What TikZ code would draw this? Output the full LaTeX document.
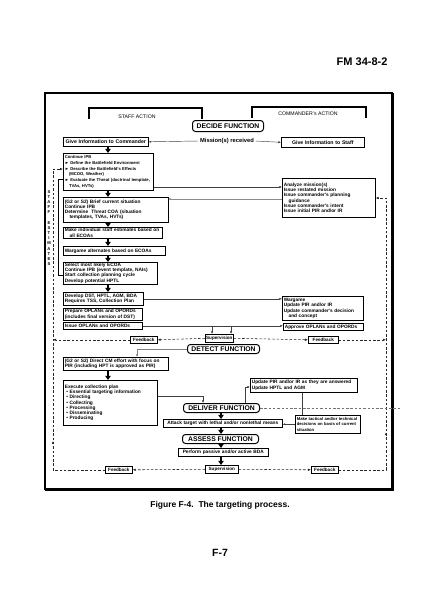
\documentclass[tikz,border=0pt]{standalone}
\usepackage{fontspec}
\setmainfont{Liberation Sans}
\usetikzlibrary{arrows.meta,decorations.markings}

\tikzset{
  stepbox/.style={draw, line width=0.6pt, anchor=north west, align=left, inner xsep=1.5pt, inner ysep=0.6pt, font=\fontsize{4.8}{5.3}\selectfont\bfseries},
  funcbox/.style={draw, line width=1pt, rounded corners=3pt, anchor=north west, inner sep=0pt, font=\fontsize{6.8}{7.5}\selectfont\bfseries},
  tagbox/.style={draw, line width=0.6pt, anchor=north west, inner sep=0pt, font=\fontsize{4.6}{5}\selectfont\bfseries},
  feedline/.style={black!85, line width=0.55pt, dash pattern=on 2.5pt off 1.8pt},
  feedtip/.style={-{Latex[length=3pt,width=2.4pt]}},
  thinline/.style={black!75, line width=0.45pt, -{Latex[length=2.6pt,width=2.2pt]}},
  downarrow/.style={line width=1.2pt, -{Triangle[width=5.5pt,length=4.2pt]}},
}

\begin{document}
\begin{tikzpicture}[x=1pt,y=1pt,yscale=-1]
\useasboundingbox (0,0) rectangle (440,600);
\fill[white] (0,0) rectangle (440,600);

%Shape: Frame
\draw[line width=1.4pt] (45,93) rectangle (392,489);
\draw[line width=3pt] (392,93) -- (392,489) -- (45,489);
\draw[line width=2.2pt] (45,93) -- (45,489);

%Straight Lines: action brackets
\draw[line width=1.1pt] (89,119) -- (89,108) -- (202,108) -- (202,119);
\draw[line width=1.1pt] (252,118) -- (252,107) -- (366,107) -- (366,118);
%Straight Lines: staff estimates bracket
\draw[line width=0.6pt] (63,179) -- (58,179) -- (58,275) -- (63,275);

% Text Node
\node[font=\fontsize{11}{13}\selectfont\bfseries, anchor=east] (docId) at (391,62) {FM 34-8-2};
\node[font=\fontsize{5.2}{6}\selectfont] (staffAct) at (137,117) {STAFF ACTION};
\node[font=\fontsize{5.2}{6}\selectfont] (cdrAct) at (308,114) {COMMANDER's ACTION};
\node[font=\fontsize{4.2}{5.2}\selectfont\bfseries, align=center, inner sep=0pt] (staffEst) at (49,228) {S\\T\\A\\F\\F\\[5pt]E\\S\\T\\I\\M\\A\\T\\E\\S};

% Function boxes
\node[funcbox, minimum width=71pt, minimum height=11pt] (decide) at (192,120) {DECIDE FUNCTION};
\node[funcbox, minimum width=72pt, minimum height=9pt] (detect) at (187,344) {DETECT FUNCTION};
\node[funcbox, minimum width=76pt, minimum height=9pt] (deliver) at (183,403) {DELIVER FUNCTION};
\node[funcbox, minimum width=76pt, minimum height=9pt] (assess) at (182,434) {ASSESS FUNCTION};

% Text Node
\node[font=\fontsize{5.8}{6.5}\selectfont\bfseries, inner sep=1.5pt] (mission) at (227,141) {Mission(s) received};

% Staff column
\node[stepbox, align=center, text width=82pt, minimum height=9pt, font=\fontsize{5.2}{6}\selectfont\bfseries] (giveCdr) at (63,137) {Give Information to Commander};
\node[stepbox, text width=87pt, minimum height=37pt, font=\fontsize{4.2}{5.7}\selectfont\bfseries] (ipb) at (63,153) {Continue IPB\\
► Define the Battlefield Environment\\
► Describe the Battlefield's Effects\\
\quad (MCOO, Weather)\\
► Evaluate the Threat (doctrinal template,\\
\quad TVAs, HVTs)};
\node[stepbox, text width=102pt, minimum height=25pt] (brief) at (63,197) {(G2 or S2) Brief current situation\\Continue IPB\\Determine\ \ Threat COA (situation\\\quad templates, TVAs, HVTs)};
\node[stepbox, text width=96pt, minimum height=11pt] (estim) at (63,227) {Make individual staff estimates based on\\\quad all ECOAs};
\node[stepbox, text width=99pt, minimum height=9pt] (wargame) at (63,246) {Wargame alternates based on ECOAs};
\node[stepbox, text width=91pt, minimum height=21pt] (select) at (63,262) {Select most likely ECOA\\Continue IPB (event template, NAIs)\\Start collection planning cycle\\Develop potential HPTL};
\node[stepbox, text width=77pt, minimum height=13pt] (develop) at (63,292) {Develop DST, HPTL, AGM, BDA\\Requires TSS, Collection Plan};
\node[stepbox, text width=76pt, minimum height=12pt] (prepare) at (63,308) {Prepare OPLANs and OPORDs\\(includes final version of DST)};
\node[stepbox, text width=76pt, minimum height=7pt] (issue) at (63,322) {Issue OPLANs and OPORDs};

% Commander column
\node[stepbox, align=center, text width=80pt, minimum height=10pt, font=\fontsize{5.2}{6}\selectfont\bfseries] (giveStaff) at (281,137) {Give Information to Staff};
\node[stepbox, text width=90pt, minimum height=39pt] (analyze) at (282,178) {Analyze mission(s)\\Issue restated mission\\Issue commander's planning\\\quad guidance\\Issue commander's intent\\Issue initial PIR and/or IR};
\node[stepbox, text width=78pt, minimum height=24pt] (wargameC) at (282,296) {Wargame\\Update PIR and/or IR\\Update commander's decision\\\quad and concept};
\node[stepbox, text width=77pt, minimum height=7pt] (approve) at (283,323) {Approve OPLANs and OPORDs};

% Detect and deliver
\node[stepbox, text width=102pt, minimum height=13pt] (direct) at (63,357) {(G2 or S2) Direct CM effort with focus on\\PIR (including HPT is approved as PIR)};
\node[stepbox, text width=91pt, minimum height=45pt] (execute) at (63,380) {Execute collection plan\\
\ • Essential targeting information\\
\ • Directing\\
\ • Collecting\\
\ • Processing\\
\ • Disseminating\\
\ • Producing};
\node[stepbox, text width=104pt, minimum height=14pt] (updPIR) at (250,378) {Update PIR and/or IR as they are answered\\Update HPTL and AGM};
\node[stepbox, align=center, text width=116pt, minimum height=8pt] (attack) at (163,419) {Attack target with lethal and/or nonlethal means};
\node[stepbox, text width=62pt, minimum height=18pt, font=\fontsize{4.2}{5.2}\selectfont\bfseries] (decisions) at (295,415) {Make tactical and/or technical\\decisions on basis of current\\situation};
\node[stepbox, align=center, text width=87pt, minimum height=8pt] (bda) at (178,448) {Perform passive and/or active BDA};

% Feedback and supervision tags
\node[tagbox, minimum width=27pt, minimum height=7pt] (fbA) at (130,336) {Feedback};
\node[tagbox, minimum width=28pt, minimum height=8pt] (supA) at (205,334) {Supervision};
\node[tagbox, minimum width=30pt, minimum height=7pt] (fbB) at (308,336) {Feedback};
\node[tagbox, minimum width=27pt, minimum height=7pt] (fbL) at (105,466) {Feedback};
\node[tagbox, minimum width=33pt, minimum height=8pt] (supB) at (205,465) {Supervision};
\node[tagbox, minimum width=27pt, minimum height=7pt] (fbR) at (311,466) {Feedback};

% Text Node
\node[font=\fontsize{8.5}{10}\selectfont\bfseries] (caption) at (220,505) {Figure F-4.\ \ The targeting process.};
\node[font=\fontsize{10.5}{12}\selectfont\bfseries] (pageNo) at (220,553) {F-7};

% Routing points
\coordinate (leftx) at (53,0);
\coordinate (colx) at (108,0);
\coordinate (midx) at (221,0);
\coordinate (fbTopL) at (53,169);
\coordinate (fbTopR) at (386,198);
\coordinate (toAnalyze) at (282,187);
\coordinate (toBrief) at (168,199);
\coordinate (tickA) at (212,326);
\coordinate (tickB) at (231,326);
\coordinate (toDirect) at (137,357);
\coordinate (bendDel) at (203,396);
\coordinate (bendUpd) at (245,387);
\coordinate (vUpd) at (302,0);
\coordinate (outR) at (400,0);

%Straight Lines: down arrows
\draw[downarrow] (giveCdr.south -| colx) -- (ipb.north -| colx);
\draw[downarrow] (ipb.south -| colx) -- (brief.north -| colx);
\draw[downarrow] (brief.south -| colx) -- (estim.north -| colx);
\draw[downarrow] (estim.south -| colx) -- (wargame.north -| colx);
\draw[downarrow] (wargame.south -| colx) -- (select.north -| colx);
\draw[downarrow] (select.south -| colx) -- (develop.north -| colx);
\draw[downarrow] (direct.south -| colx) -- (execute.north -| colx);
\draw[downarrow] (deliver.south -| midx) -- (attack.north -| midx);
\draw[downarrow] (attack.south -| midx) -- (assess.north -| midx);
\draw[downarrow] (assess.south -| midx) -- (bda.north -| midx);
\draw[downarrow] (bda.south -| midx) -- (supB.north -| midx);

%Straight Lines: thin connectors
\draw[thinline] (mission.west) -- (giveCdr.east);
\draw[thinline] (mission.east) -- (giveStaff.west);
\draw[thinline] (ipb.east |- toAnalyze) -- (toAnalyze);
\draw[thinline, black!45] (toBrief -| analyze.west) -- (toBrief);
\draw[thinline] (develop.east) -- (develop.east -| wargameC.west);
\draw[thinline] (issue.east) -- (issue.east -| approve.west);
\draw[thinline] (tickA) -- (tickA |- supA.north);
\draw[thinline] (tickB) -- (tickB |- supA.north);
\draw[thinline, black!50] (detect.west) -| (toDirect);
\draw[thinline] (bendDel -| execute.east) -- (bendDel) -- (bendDel |- deliver.north);
\draw[thinline] (bendUpd |- deliver.north) -- (bendUpd) -- (bendUpd -| updPIR.west);
\draw[black!75, line width=0.45pt] (updPIR.south -| vUpd) -- (decisions.north -| vUpd);
\draw[thinline] (decisions.west) -- (decisions.west -| attack.east);

%Dashed Lines: feedback loops
\draw[feedline, feedtip] (supA.west) -- (fbA.east);
\draw[feedline, feedtip] (fbA.west) -- (fbA.west -| leftx);
\draw[feedline, feedtip] (supA.east) -- (fbB.west);
\draw[feedline, feedtip] (fbB.east) -- (fbB.east -| fbTopR);
\draw[feedline, feedtip] (supB.west) -- (fbL.east);
\draw[feedline, feedtip] (supB.east) -- (fbR.west);
\draw[feedline, feedtip, postaction={decorate, decoration={markings, mark=at position 81pt with {\arrow{Latex[length=3pt,width=2.4pt]}}}}] (fbL.west) -| (fbTopL) -- (fbTopL -| ipb.west);
\draw[feedline, feedtip, postaction={decorate, decoration={markings, mark=at position 85pt with {\arrow{Latex[length=3pt,width=2.4pt]}}}}] (fbR.east) -| (fbTopR) -- (fbTopR -| analyze.east);
\draw[feedline, black!55] (deliver.east) -- (deliver.east -| outR);

\end{tikzpicture}
\end{document}
